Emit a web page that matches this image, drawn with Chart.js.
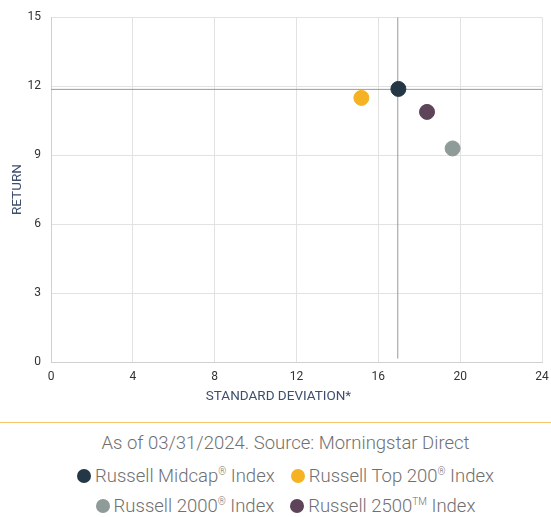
<!DOCTYPE html>
<html>
<head>
<meta charset="utf-8">
<script src="https://cdn.jsdelivr.net/npm/chart.js@4"></script>
<style>
  body { margin: 0; background: #fff; font-family: Roboto, sans-serif; }
  #wrap { width: 551px; height: 410px; position: relative; }
  #note { border-top: 1px solid #f6c46e; margin-top: 12px; padding: 8px 0 0 20px;
          text-align: center; color: #707070; font-size: 18.5px; font-weight: 300; line-height: 24px; }
  #legend { margin-top: 6px; padding-left: 20px; }
  .row { text-align: center; color: #707070; font-size: 18.5px; font-weight: 300; line-height: 30px; white-space: nowrap; }
  .item { display: inline-block; margin: 0 8px; }
  .dot { display: inline-block; width: 14px; height: 14px; border-radius: 50%;
         vertical-align: -1px; margin-right: 4px; }
  sup { font-size: 10px; vertical-align: 7px; line-height: 0; }
</style>
</head>
<body>
<div id="wrap"><canvas id="chart"></canvas></div>
<div id="note">As of 03/31/2024. Source: Morningstar Direct</div>
<div id="legend"></div>
<script>
// standard deviation (x) and return (y) for each index
const names = ['Russell Midcap® Index', 'Russell Top 200® Index', 'Russell 2000® Index', 'Russell 2500™ Index'];
const stdDev = [16.98, 15.17, 19.63, 18.38];
const returns = [11.88, 11.49, 9.29, 10.88];
const colors = ['#233746', '#f5b323', '#8e9b98', '#5e4459'];

// crosshair through the midcap point
const crossX = 16.95;
const crossY = 11.86;

const xTicks = { min: 0, max: 24, step: 4 };
const yTicks = { min: 0, max: 15, step: 3 };
const xTitle = 'STANDARD DEVIATION*';

const pointSets = names.map((name, i) => ({
    label: name,
    data: [{ x: stdDev[i], y: returns[i] }],
    backgroundColor: colors[i],
    borderColor: colors[i],
    pointRadius: 7.5,
    pointHoverRadius: 7.5,
    order: 1
}));

const lineStyle = {
    type: 'line',
    borderColor: '#9a9a9a',
    borderWidth: 1,
    pointRadius: 0,
    order: 5
};

// x title is centred on the canvas, not on the plot area
const xTitlePlugin = {
    id: 'xTitle',
    afterDraw(chart) {
        const ctx = chart.ctx;
        ctx.save();
        ctx.font = '13.5px Roboto';
        ctx.fillStyle = '#3e4f6b';
        ctx.textAlign = 'center';
        ctx.textBaseline = 'middle';
        ctx.fillText(xTitle, chart.width / 2 + 3, 397);
        ctx.restore();
    }
};

const chart = new Chart(document.getElementById('chart'), {
    type: 'scatter',
    data: {
        datasets: [
            ...pointSets,
            { ...lineStyle, label: 'v', data: [{ x: crossX, y: 0.15 }, { x: crossX, y: 15 }] },
            { ...lineStyle, label: 'h', data: [{ x: 0, y: crossY }, { x: 24, y: crossY }] }
        ]
    },
    plugins: [xTitlePlugin],
    options: {
        responsive: true,
        maintainAspectRatio: false,
        animation: false,
        layout: { padding: { top: 17, right: 9, left: 0, bottom: 0 } },
        plugins: {
            legend: { display: false },
            tooltip: { enabled: false }
        },
        scales: {
            x: {
                type: 'linear',
                min: xTicks.min,
                max: xTicks.max,
                ticks: { stepSize: xTicks.step, color: '#333', padding: 8, font: { family: 'Roboto', size: 12 } },
                grid: { color: '#e2e2e2', drawTicks: false },
                border: { color: '#d0d0d0' },
                afterFit: s => { s.height = 48; s.paddingRight = 0; s.paddingLeft = 0; }
            },
            y: {
                min: yTicks.min,
                max: yTicks.max,
                ticks: { stepSize: yTicks.step, color: '#333', padding: 10, font: { family: 'Roboto', size: 12 } },
                grid: { color: '#e2e2e2', drawTicks: false },
                border: { color: '#d0d0d0' },
                title: { display: true, text: 'RETURN', color: '#3e4f6b', font: { family: 'Roboto', size: 13.5 }, padding: { top: 10, bottom: 0 } },
                afterFit: s => { s.width = 51; }
            }
        }
    }
});

// html legend in two rows
const legend = document.getElementById('legend');
[[0, 1], [2, 3]].forEach(row => {
    const div = document.createElement('div');
    div.className = 'row';
    row.forEach(i => {
        const txt = names[i].replace('®', '<sup>®</sup>').replace('™', '<sup>TM</sup>');
        div.innerHTML += '<span class="item"><span class="dot" style="background:' + colors[i] + '"></span>' + txt + '</span>';
    });
    legend.appendChild(div);
});
</script>
</body>
</html>
